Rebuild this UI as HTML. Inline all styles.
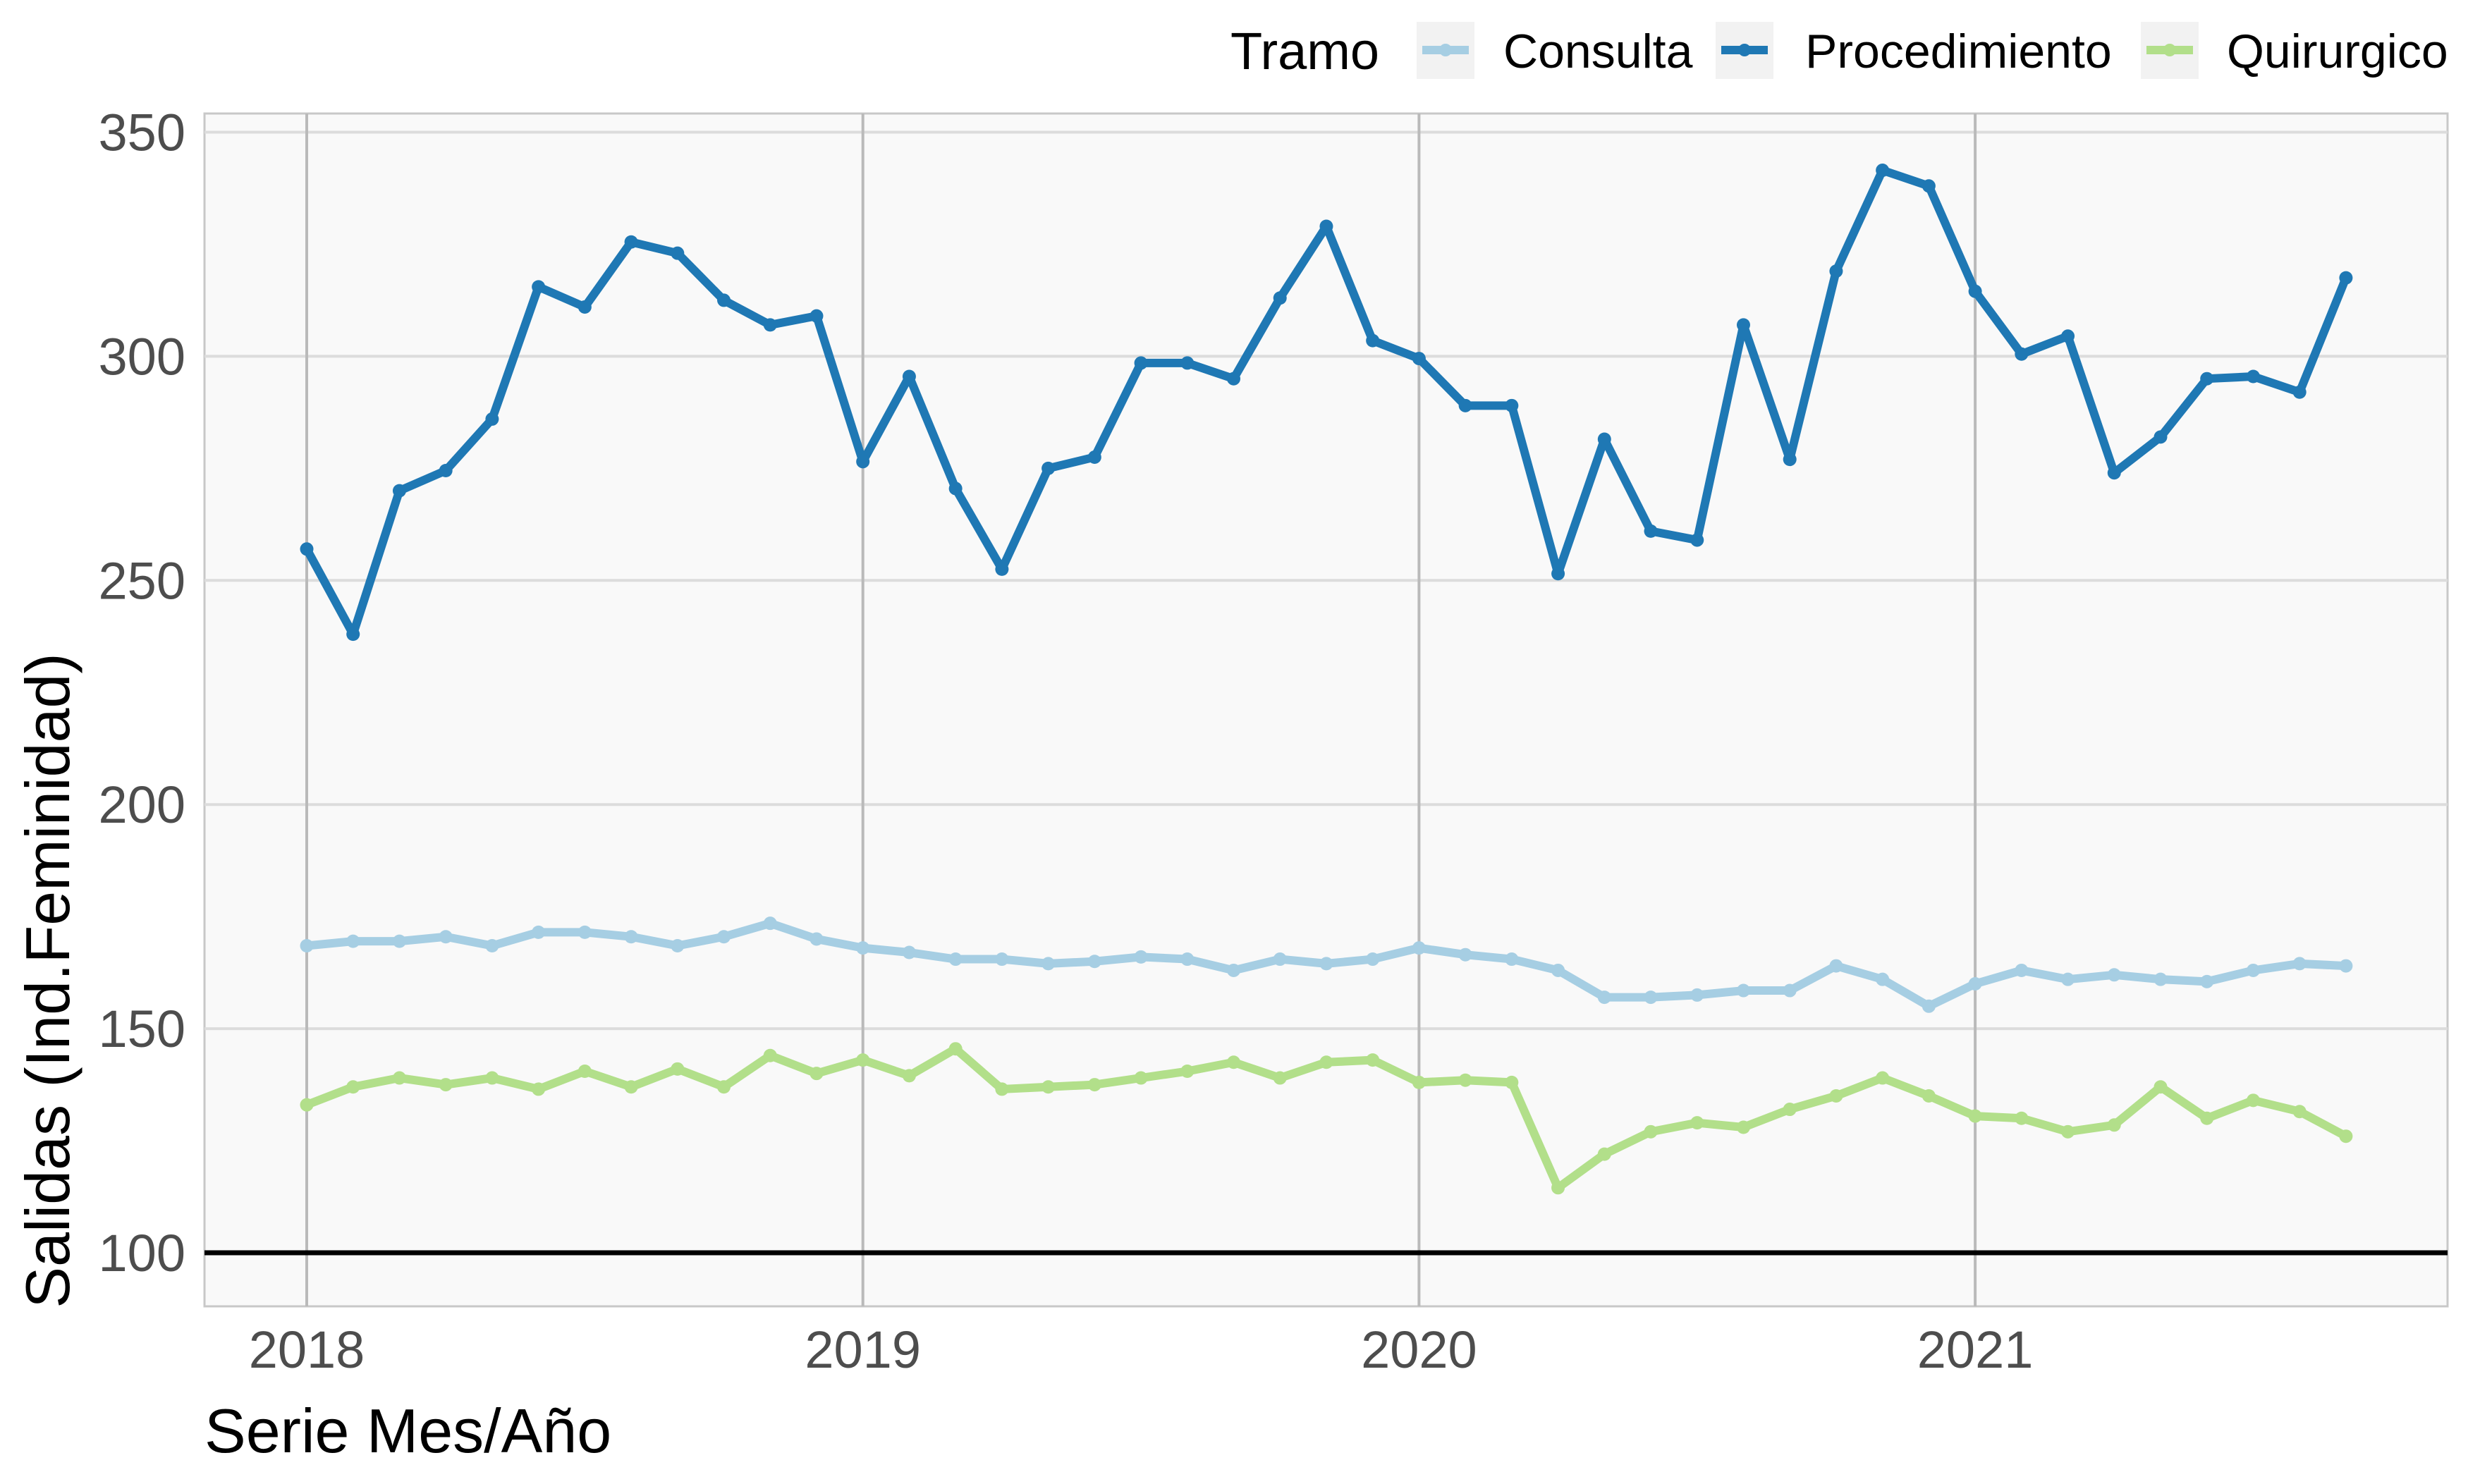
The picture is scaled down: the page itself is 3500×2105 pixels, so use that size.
<!DOCTYPE html>
<html><head><meta charset="utf-8"><style>
html,body{margin:0;padding:0;background:#fff;}
svg text{font-family:"Liberation Sans",Arial,sans-serif;}
</style></head><body>
<svg id="chart" width="3500" height="2100" viewBox="0 0 3500 2100" xmlns="http://www.w3.org/2000/svg">
<rect x="290" y="161" width="3181" height="1692" fill="#f9f9f9" stroke="#c8c8c8" stroke-width="3"/>
<g id="grid"></g>
<g id="series"></g>
<g id="axes"></g>
<g>
<text x="1745" y="98" font-size="74" fill="#000">Tramo</text>
<rect x="2009" y="31" width="82" height="81" fill="#f2f2f2"/>
<line x1="2017" y1="71" x2="2083" y2="71" stroke="#a6cee3" stroke-width="12"/><circle cx="2050" cy="71" r="9" fill="#a6cee3"/>
<text x="2132" y="96" font-size="68">Consulta</text>
<rect x="2433" y="31" width="82" height="81" fill="#f2f2f2"/>
<line x1="2441" y1="71" x2="2507" y2="71" stroke="#1f78b4" stroke-width="12"/><circle cx="2474" cy="71" r="9" fill="#1f78b4"/>
<text x="2560" y="96" font-size="68">Procedimiento</text>
<rect x="3036" y="31" width="82" height="81" fill="#f2f2f2"/>
<line x1="3044" y1="71" x2="3110" y2="71" stroke="#b2df8a" stroke-width="12"/><circle cx="3077" cy="71" r="9" fill="#b2df8a"/>
<text x="3158" y="96" font-size="68">Quirurgico</text>
</g>
<text x="290" y="2060" font-size="88" fill="#000">Serie Mes/Año</text>
<text transform="translate(98,1391) rotate(-90)" text-anchor="middle" font-size="88" fill="#000">Salidas (Ind.Feminidad)</text>
</svg>
<script>
const yTicks=[100,150,200,250,300,350];
const xYears=[2018,2019,2020,2021];
const consulta=[168.5,169.5,169.5,170.5,168.5,171.5,171.5,170.5,168.5,170.5,173.5,170,
168,167,165.5,165.5,164.5,165,166,165.5,163,165.5,164.5,165.5,
168,166.5,165.5,163,157,157,157.5,158.5,158.5,164,161,155,
160,163,161,162,161,160.5,163,164.5,164];
const procedimiento=[257,238,270,274.5,286,315.5,311,325.5,323,312.5,307,309,
276.5,295.5,270.5,252.5,275,277.5,298.5,298.5,295,313,329,303.5,
299.5,289,289,251.5,281.5,261,259,307,277,319,341.5,338,
314.5,300.5,304.5,274,282,295,295.5,292,317.5];
const quirurgico=[133,137,139,137.5,139,136.5,140.5,137,141,137,144,140,
143,139.5,145.5,136.5,137,137.5,139,140.5,142.5,139,142.5,143,
138,138.5,138,114.5,122,127,129,128,132,135,139,135,
130.5,130,127,128.5,137,130,134,131.5,126];
const NS="http://www.w3.org/2000/svg";
function y(v){return 1777-(v-100)*(1777-187.5)/250;}
function x(year){return 435+(year-2018)*788.7;}
function xi(i){return x(2018+i/12);}
function mk(tag,attrs,parent){const e=document.createElementNS(NS,tag);for(const k in attrs)e.setAttribute(k,attrs[k]);parent.appendChild(e);return e;}
const grid=document.getElementById('grid'),axes=document.getElementById('axes'),ser=document.getElementById('series');
yTicks.forEach(v=>{
 const l=mk('line',{x1:290,x2:3471,y1:y(v),y2:y(v),stroke:'#dcdcdc','stroke-width':4},grid);
 
 
 const t=mk('text',{x:263,y:y(v)+26,'text-anchor':'end','font-size':74,fill:'#4d4d4d'},axes);
 t.textContent=v;
 
 
});
xYears.forEach(yr=>{
 const l=mk('line',{x1:x(yr),x2:x(yr),y1:161,y2:1853,stroke:'#bababa','stroke-width':4},grid);
 
 
 const t=mk('text',{x:x(yr),y:1940,'text-anchor':'middle','font-size':74,fill:'#4d4d4d'},axes);
 t.textContent=yr;
 
 
});
const ref=mk('line',{x1:290,x2:3471,y1:y(100),y2:y(100),stroke:'#000','stroke-width':7},grid);


[[consulta,'#a6cee3','consulta'],[procedimiento,'#1f78b4','procedimiento'],[quirurgico,'#b2df8a','quirurgico']].forEach(([d,c,n])=>{
 const g=mk('g',{},ser);
 
 
 const p=mk('polyline',{points:d.map((v,i)=>xi(i)+','+y(v)).join(' '),fill:'none',stroke:c,'stroke-width':12,'stroke-linejoin':'round'},g);
 
 
 d.forEach((v,i)=>{
  const ci=mk('circle',{cx:xi(i),cy:y(v),r:9.5,fill:c},g);
  
  
 });
});
</script>
</body></html>
